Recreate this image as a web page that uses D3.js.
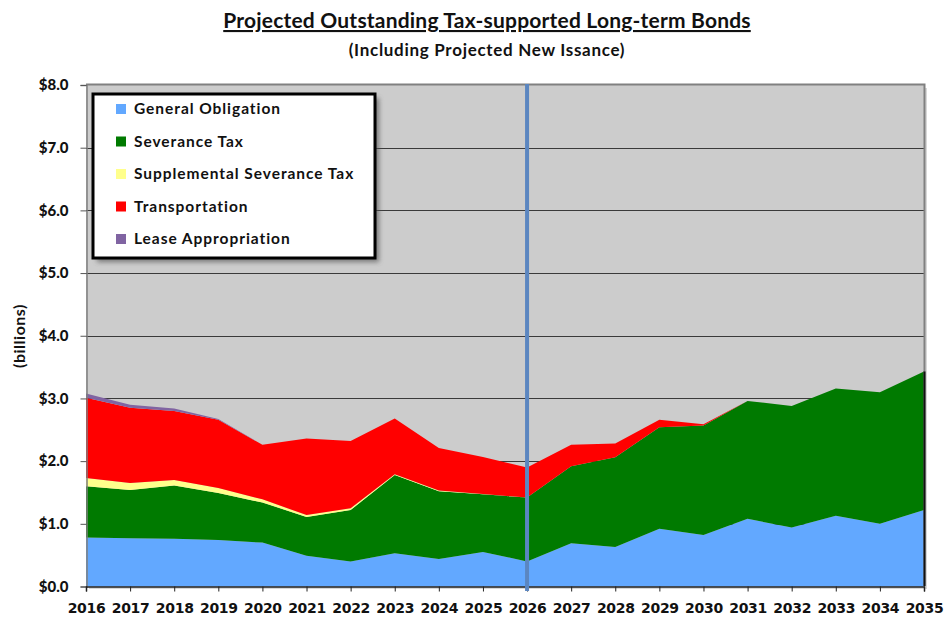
<!DOCTYPE html>
<html>
<head>
<meta charset="utf-8">
<script src="https://cdn.jsdelivr.net/npm/d3@7"></script>
<style>
  html, body { margin: 0; padding: 0; background: #fff; }
  svg { display: block; }
</style>
</head>
<body>
<svg id="chart" width="945" height="618"></svg>
<script>
// Fiscal years and outstanding balances by bond program ($ billions)
const years = [2016, 2017, 2018, 2019, 2020, 2021, 2022, 2023, 2024, 2025,
               2026, 2027, 2028, 2029, 2030, 2031, 2032, 2033, 2034, 2035];
const generalObligation   = [0.78, 0.77, 0.76, 0.74, 0.70, 0.49, 0.40, 0.53, 0.44, 0.55,
                             0.40, 0.69, 0.63, 0.92, 0.82, 1.08, 0.94, 1.13, 1.00, 1.22];
const severanceTax        = [0.82, 0.77, 0.85, 0.75, 0.64, 0.62, 0.82, 1.25, 1.08, 0.92,
                             1.02, 1.23, 1.43, 1.62, 1.75, 1.88, 1.94, 2.03, 2.10, 2.21];
const supplementalSevTax  = [0.13, 0.11, 0.09, 0.08, 0.05, 0.03, 0.03, 0.01, 0.01, 0.005,
                             0, 0, 0, 0, 0, 0, 0, 0, 0, 0];
const transportation      = [1.28, 1.20, 1.10, 1.09, 0.87, 1.22, 1.07, 0.89, 0.68, 0.59,
                             0.48, 0.34, 0.22, 0.12, 0.02, 0, 0, 0, 0, 0];
const leaseAppropriation  = [0.07, 0.05, 0.04, 0.01, 0, 0, 0, 0, 0, 0,
                             0, 0, 0, 0, 0, 0, 0, 0, 0, 0];
const yTicks = [0, 1, 2, 3, 4, 5, 6, 7, 8];
const currentYear = 2026;

const seriesDefs = [
  { key: "go",    name: "General Obligation",          color: "#62a8ff", values: generalObligation },
  { key: "sev",   name: "Severance Tax",               color: "#007a00", values: severanceTax },
  { key: "supp",  name: "Supplemental Severance Tax",  color: "#ffff8c", values: supplementalSevTax },
  { key: "trans", name: "Transportation",              color: "#ff0000", values: transportation },
  { key: "lease", name: "Lease Appropriation",         color: "#8064a2", values: leaseAppropriation }
];

const rows = years.map((yr, i) => {
  const r = { year: yr };
  seriesDefs.forEach(s => { r[s.key] = s.values[i]; });
  return r;
});

const svg = d3.select("#chart");
const margin = { left: 86, right: 21, top: 85, bottom: 32 };
const W = 945, H = 618;
const x0 = margin.left, x1 = W - margin.right, y0 = H - margin.bottom, y1 = margin.top;

const x = d3.scaleLinear().domain([years[0], years[years.length - 1]]).range([x0, x1]);
const y = d3.scaleLinear().domain([0, 8]).range([y0 + 0.5, y1]);

const defs = svg.append("defs");
const blur = defs.append("filter").attr("id", "shadow").attr("x", "-10%").attr("y", "-10%")
  .attr("width", "130%").attr("height", "130%");
blur.append("feGaussianBlur").attr("stdDeviation", 2.5);

// Plot frame shadow and background
svg.append("rect").attr("x", x0 + 3).attr("y", y1 + 3).attr("width", x1 - x0).attr("height", y0 - y1)
  .attr("fill", "#d8d8d8");
svg.append("rect").attr("x", x0).attr("y", y1).attr("width", x1 - x0).attr("height", y0 - y1)
  .attr("fill", "#cccccc");

// Horizontal gridlines
svg.append("g").selectAll("line").data(yTicks.filter(d => d > 0 && d < 8)).join("line")
  .attr("x1", x0).attr("x2", x1)
  .attr("y1", d => Math.round(y(d)) + 0.5).attr("y2", d => Math.round(y(d)) + 0.5)
  .attr("stroke", "#3a3a3a").attr("stroke-width", 1);

// Stacked areas
const stack = d3.stack().keys(seriesDefs.map(s => s.key));
const stacked = stack(rows);
const area = d3.area()
  .x(d => x(d.data.year))
  .y0(d => y(d[0]))
  .y1(d => y(d[1]));
svg.append("g").selectAll("path").data(stacked).join("path")
  .attr("d", area)
  .attr("fill", (d, i) => seriesDefs[i].color);

// Frame top/right border
svg.append("path")
  .attr("d", `M${x0},${y1 - 0.5}H${x1 + 0.5}V${y0}`)
  .attr("fill", "none").attr("stroke", "#808080").attr("stroke-width", 2);

// Dark right edge of the stacked areas
const lastTop = stacked[stacked.length - 1][rows.length - 1][1];
svg.append("line").attr("x1", x1 + 0.5).attr("x2", x1 + 0.5)
  .attr("y1", y(lastTop)).attr("y2", y0)
  .attr("stroke", "#111").attr("stroke-width", 2);

// Axes
const yAxis = d3.axisLeft(y).tickValues(yTicks).tickSize(6).tickFormat(d => "$" + d.toFixed(1));
const gy = svg.append("g").attr("transform", `translate(${x0 + 0.5},0)`).call(yAxis);
gy.select(".domain").attr("stroke", "#7f7f7f").attr("stroke-width", 1.5);
gy.selectAll(".tick line").attr("stroke", "#555");
gy.selectAll(".tick text")
  .attr("x", -18)
  .style("font-family", "Lato, 'Open Sans', sans-serif")
  .style("font-weight", "900").style("font-size", "15px").attr("fill", "#111");

const xAxis = d3.axisBottom(x).tickValues(years).tickSize(5).tickFormat(d3.format("d"));
const gx = svg.append("g").attr("transform", `translate(0,${y0 + 0.5})`).call(xAxis);
gx.select(".domain").attr("stroke", "#222").attr("stroke-width", 1.5);
gx.selectAll(".tick line").attr("stroke", "#222");
gx.selectAll(".tick text")
  .attr("y", 26).attr("dy", "0")
  .style("font-family", "'DejaVu Sans', Verdana, sans-serif")
  .style("font-weight", "bold").style("font-size", "14px")
  .style("letter-spacing", "-0.3px").attr("fill", "#111");

// Marker for the current year
svg.append("line")
  .attr("x1", x(currentYear)).attr("x2", x(currentYear))
  .attr("y1", y1 - 1).attr("y2", y0 + 5)
  .attr("stroke", "#5b86c0").attr("stroke-width", 4);

// Legend
const lg = { x: 93, y: 94, w: 282, h: 164 };
svg.append("rect").attr("x", lg.x + 4).attr("y", lg.y + 4).attr("width", lg.w).attr("height", lg.h)
  .attr("fill", "#555").attr("opacity", 0.7).attr("filter", "url(#shadow)");
svg.append("rect").attr("x", lg.x).attr("y", lg.y).attr("width", lg.w).attr("height", lg.h)
  .attr("fill", "#fff").attr("stroke", "#000").attr("stroke-width", 3);
const items = svg.append("g").selectAll("g").data(seriesDefs).join("g")
  .attr("transform", (d, i) => `translate(${lg.x + 23},${lg.y + 15 + i * 32.5})`);
items.append("rect").attr("x", 0).attr("y", -5).attr("width", 10).attr("height", 10)
  .attr("fill", d => d.color);
items.append("text").attr("x", 18).attr("y", 0).attr("dy", "0.35em")
  .text(d => d.name)
  .style("font-family", "Lato, 'Open Sans', sans-serif")
  .style("font-weight", "bold").style("font-size", "15.5px")
  .style("letter-spacing", "0.95px").attr("fill", "#111");

// Titles
svg.append("text").attr("x", 487).attr("y", 28).attr("text-anchor", "middle")
  .text("Projected Outstanding Tax-supported Long-term Bonds")
  .style("font-family", "Lato, 'Open Sans', sans-serif")
  .style("font-weight", "bold").style("font-size", "21px")
  .style("letter-spacing", "0.2px")
  .style("text-decoration", "underline").attr("fill", "#111");
svg.append("text").attr("x", 487).attr("y", 56).attr("text-anchor", "middle")
  .text("(Including Projected New Issance)")
  .style("font-family", "Lato, 'Open Sans', sans-serif")
  .style("font-weight", "bold").style("font-size", "17px")
  .style("letter-spacing", "0.7px").attr("fill", "#111");

// Y axis title
svg.append("text").attr("transform", "translate(25,336) rotate(-90)")
  .attr("text-anchor", "middle")
  .text("(billions)")
  .style("font-family", "Lato, 'Open Sans', sans-serif")
  .style("font-weight", "bold").style("font-size", "16px")
  .style("letter-spacing", "0.5px").attr("fill", "#111");
</script>
</body>
</html>
